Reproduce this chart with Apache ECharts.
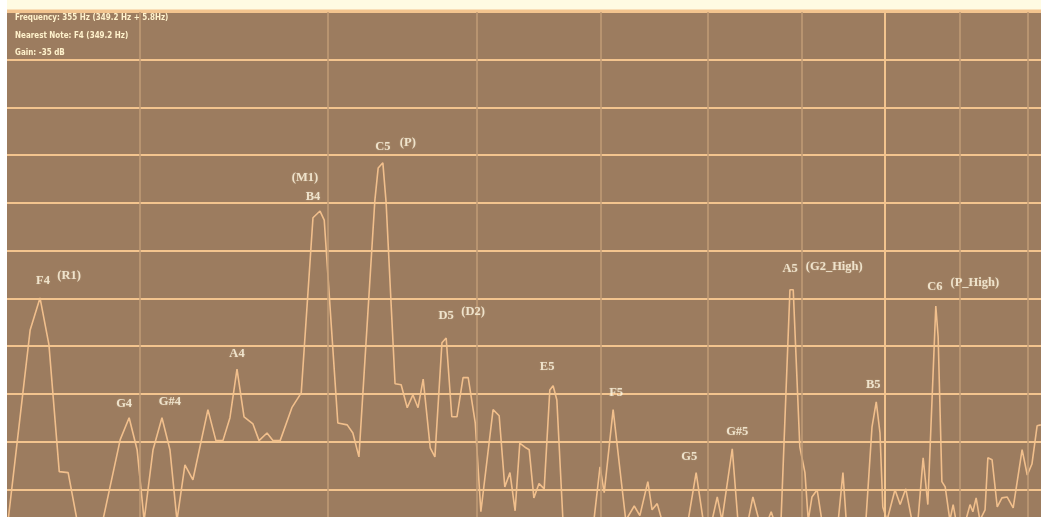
<!DOCTYPE html>
<html><head><meta charset="utf-8">
<script src="https://cdn.jsdelivr.net/npm/echarts@6/dist/echarts.min.js"></script>
<style>html,body{margin:0;padding:0;background:#ffffff;overflow:hidden}#c{width:1041px;height:517px}</style>
</head><body><div id="c"></div>
<script>
// Spectrum vertices: x = pitch as MIDI note number (log frequency), y = level in dB
const spectrumMidi = [
64.32, 64.79, 65.00, 65.19, 65.41, 65.60, 65.79, 66.34, 66.71, 66.90,
67.07, 67.22, 67.41, 67.60, 67.77, 67.92, 68.09, 68.26, 68.58, 68.75,
68.90, 69.05, 69.20, 69.35, 69.54, 69.67, 69.84, 69.97, 70.12, 70.37,
70.57, 70.82, 70.97, 71.06, 71.35, 71.55, 71.67, 71.80, 72.14, 72.21,
72.31, 72.38, 72.57, 72.70, 72.83, 72.95, 73.06, 73.17, 73.32, 73.42,
73.57, 73.66, 73.78, 73.89, 74.02, 74.13, 74.28, 74.40, 74.66, 74.79,
74.91, 75.02, 75.13, 75.23, 75.36, 75.43, 75.53, 75.64, 75.75, 75.87,
75.94, 76.02, 76.15, 76.81, 76.94, 77.03, 77.22, 77.39, 77.49, 77.67,
77.79, 77.96, 78.05, 78.16, 78.26, 78.82, 78.99, 79.14, 79.33, 79.44,
79.54, 79.76, 79.88, 80.10, 80.20, 80.33, 80.52, 80.59, 80.65, 80.80,
80.99, 81.06, 81.12, 81.20, 81.31, 81.38, 81.46, 81.57, 81.67, 82.02,
82.12, 82.19, 82.61, 82.74, 82.83, 82.91, 82.97, 83.06, 83.23, 83.34,
83.46, 83.59, 83.72, 83.83, 83.93, 84.10, 84.15, 84.23, 84.30, 84.40,
84.47, 84.53, 84.74, 84.83, 84.89, 84.96, 85.04, 85.15, 85.21, 85.30,
85.41, 85.51, 85.62, 85.75, 85.94, 86.05, 86.15, 86.26, 86.34
];
const spectrumDb = [
-106.5, -66.6, -59.9, -69.7, -96.3, -96.5, -106.5, -106.5, -89.6, -85.0,
-91.7, -106.5, -91.7, -85.0, -91.7, -106.5, -94.9, -98.0, -83.3, -89.8,
-89.8, -85.0, -74.8, -84.8, -86.3, -89.8, -88.2, -89.8, -89.8, -82.9,
-79.8, -43.1, -41.7, -43.6, -86.1, -86.5, -88.2, -93.2, -39.4, -32.7,
-31.6, -40.0, -77.9, -78.1, -82.9, -80.2, -82.9, -76.9, -91.3, -93.2,
-69.3, -68.3, -84.8, -84.8, -76.6, -76.6, -86.1, -104.7, -83.3, -84.6,
-99.5, -96.5, -104.5, -90.3, -91.3, -91.7, -101.8, -98.8, -99.9, -79.2,
-78.3, -81.3, -106.5, -106.5, -95.3, -100.7, -83.3, -98.0, -106.5, -103.5,
-105.5, -98.4, -104.3, -103.0, -106.5, -106.5, -96.5, -106.5, -106.5, -101.6,
-106.5, -91.5, -106.5, -106.5, -101.6, -106.5, -106.5, -104.7, -106.5, -106.5,
-58.2, -58.2, -72.2, -91.1, -96.5, -106.5, -101.6, -100.1, -106.5, -106.5,
-96.5, -106.5, -106.5, -86.9, -81.7, -88.2, -103.7, -106.5, -100.1, -103.2,
-99.9, -106.5, -106.5, -93.4, -103.2, -61.6, -68.1, -98.4, -99.5, -106.5,
-103.2, -106.5, -106.5, -103.2, -104.7, -101.8, -106.5, -104.3, -93.4, -93.8,
-103.7, -101.8, -101.6, -103.9, -91.7, -97.0, -94.7, -86.7, -86.5
];

// Labelled peaks
const peakNotes = ['F4','G4','G#4','A4','B4','C5','D5','E5','F5','G5','G#5','A5','B5','C6'];
const peakRoles = ['(R1)','','','','(M1)','(P)','(D2)','','','','','(G2_High)','','(P_High)'];
const peakMidi  = [65.00, 66.90, 67.60, 69.20, 70.97, 72.31, 73.66, 75.94, 77.22, 78.99, 79.76, 81.06, 82.83, 84.10];
const peakDb    = [-59.9, -85.0, -85.0, -74.8, -41.7, -31.6, -68.3, -78.3, -83.3, -96.5, -91.5, -58.2, -81.7, -61.6];

// Grid
const gridDb = [0, -10, -20, -30, -40, -50, -60, -70, -80, -90, -100];
const gridMidi = [67.13, 71.14, 74.32, 76.96, 79.24, 81.25, 84.62, 86.07];
const cursorMidi = [83.02];

const infoLines = ['Frequency: 355 Hz (349.2 Hz + 5.8Hz)', 'Nearest Note: F4 (349.2 Hz)', 'Gain: -35 dB'];

// Layout (label offsets in px from each peak)
const noteOffsets = [[3,-17],[-5,-14],[8,-16],[0,-15],[-7,-14],[0,-16],[0,-22],[-6,-19],[3,-17],[-7,-16],[5,-17],[-3,-21],[-3,-17],[-1,-19]];
const roleOffsets = [[29,-22],null,null,null,[-15,-33],[25,-20],[27,-26],null,null,null,null,[41,-23],null,[39,-23]];

const BG = '#9c7c5f', HLINE = '#f3c48e', VLINE = '#c29d76', CURVE = '#f1bf8c', TXT = '#fff8e2';

const chart = echarts.init(document.getElementById('c'), null, {renderer: 'canvas'});

const lineData = spectrumMidi.map((m, i) => [m, spectrumDb[i]]);
const noteData = peakNotes.map((n, i) => ({
  value: [peakMidi[i], peakDb[i]], name: n,
  label: {offset: noteOffsets[i]}
}));
const roleData = [];
peakRoles.forEach((r, i) => { if (r) roleData.push({value: [peakMidi[i], peakDb[i]], name: r, label: {offset: roleOffsets[i]}}); });

const labelFont = {fontFamily: '"Liberation Serif", "Times New Roman", serif', fontWeight: 'bold', fontSize: 12.5, color: TXT,
  textShadowColor: 'rgba(255,240,200,0.35)', textShadowBlur: 2};

const option = {
  animation: false,
  backgroundColor: '#ffffff',
  grid: {left: 7, right: 0, top: 12, bottom: 0, show: true, backgroundColor: BG, borderWidth: 0},
  xAxis: {type: 'value', min: 64.296, max: 86.343, show: false},
  yAxis: {type: 'value', min: -105.8, max: 0, show: false},
  graphic: [
    {type: 'rect', shape: {x: 0, y: 0, width: 1041, height: 11}, style: {fill: '#fffbe2'}, z: 10},
    {type: 'rect', shape: {x: 7, y: 9.5, width: 1034, height: 2.5}, style: {fill: '#f3c48e'}, z: 11},
    {type: 'rect', shape: {x: 0, y: 0, width: 7, height: 517}, style: {fill: '#ffffff'}, z: 12},
    ...infoLines.map((t, i) => ({
      type: 'text', x: 15, y: 13 + i * 17.5, scaleX: 0.84, z: 20,
      style: {text: t, fill: '#fff2cc', font: 'bold 9.5px "DejaVu Sans Condensed", "Liberation Sans", sans-serif'}
    }))
  ],
  series: [
    {
      type: 'line', data: [], z: 1, silent: true,
      markLine: {
        silent: true, symbol: 'none', label: {show: false},
        data: [
          ...gridDb.map(v => ({yAxis: v, lineStyle: {color: HLINE, width: 2, type: 'solid'}})),
          ...gridMidi.map(v => ({xAxis: v, lineStyle: {color: VLINE, width: 1.5, type: 'solid'}})),
          ...cursorMidi.map(v => ({xAxis: v, lineStyle: {color: HLINE, width: 2, type: 'solid'}}))
        ]
      }
    },
    {
      type: 'line', data: lineData, z: 3, showSymbol: false, symbol: 'none',
      lineStyle: {color: CURVE, width: 1.6}, clip: true, silent: true
    },
    {
      type: 'scatter', data: noteData, z: 5, symbolSize: 1, itemStyle: {color: 'rgba(0,0,0,0)'}, silent: true,
      label: Object.assign({show: true, position: 'inside', formatter: p => p.name}, labelFont)
    },
    {
      type: 'scatter', data: roleData, z: 5, symbolSize: 1, itemStyle: {color: 'rgba(0,0,0,0)'}, silent: true,
      label: Object.assign({show: true, position: 'inside', formatter: p => p.name}, labelFont)
    }
  ]
};
chart.setOption(option);
</script>
</body></html>
